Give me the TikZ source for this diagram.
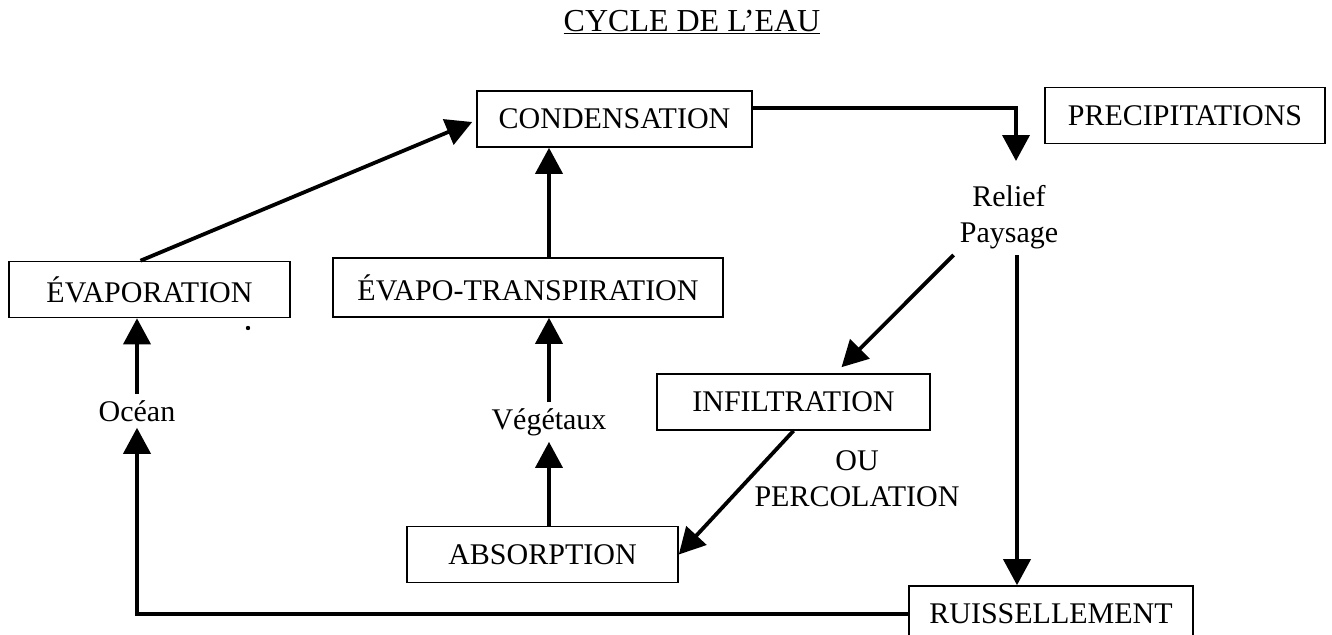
\documentclass[tikz,border=0pt]{standalone}
\usepackage{fontspec}
\setmainfont{Liberation Serif}
\usetikzlibrary{arrows.meta}
\usetikzlibrary{calc}

\tikzset{
  box/.style={draw, line width=1.6pt, minimum height=56pt, inner sep=0pt, font=\fontsize{30}{36}\selectfont},
  txt/.style={align=center, inner sep=6pt, font=\fontsize{30}{36}\selectfont},
  arr/.style={line width=3.8pt, -{Triangle[length=26pt, width=27pt]}},
}

\begin{document}
\begin{tikzpicture}[x=1pt, y=-1pt]
\useasboundingbox (0,0) rectangle (1332,634);

\node (title) at (692,22) [font=\fontsize{32}{38}\selectfont] {\underline{CYCLE DE L’EAU}};

\node (cond) at (614.5,119) [box, minimum width=275pt] {CONDENSATION};
\node (precip) at (1185,115.5) [box, minimum width=280pt] {PRECIPITATIONS};
\node (relief) at (1009,217) [txt] {Relief\\Paysage};
\node (evap) at (149.5,289.5) [box, minimum width=281pt] {ÉVAPORATION};
\node (evapt) at (528,287.5) [box, minimum width=390pt, minimum height=59pt] {ÉVAPO-TRANSPIRATION};
\node (ocean) at (137,411) [txt] {Océan};
\node (veg) at (549,422) [txt] {Végétaux};
\node (infil) at (793.5,402) [box, minimum width=273pt] {INFILTRATION};
\node (ou) at (857,479) [txt] {OU\\PERCOLATION};
\node (absorp) at (542.5,554.5) [box, minimum width=271pt] {ABSORPTION};
\node (ruiss) at (1051,614) [box, minimum width=284pt] {RUISSELLEMENT};

\coordinate (rtop) at ($(relief.north)+(7,-18)$);
\coordinate (rbot) at ($(relief.south)+(8,0)$);

% montee vers la condensation
\draw[arr] ($(evap.north)+(-9,0)$) -- ($(cond.west)+(-4,3)$);
\draw[arr] (evapt.north -| veg) -- (cond.south -| veg);
\draw[arr] (veg.north) -- (evapt.south -| veg);
\draw[arr] (absorp.north -| veg) -- (veg.south);
\draw[arr] (ocean.north) -- (evap.south -| ocean);

% precipitations
\draw[arr] ($(cond.east)+(0,-11)$) -| (rtop);
\draw[arr] (relief.south west) -- ($(infil.north)+(48,-6)$);
\draw[arr] (rbot) -- (ruiss.north -| rbot);
\draw[arr] (infil.south) -- (absorp.east);

% retour a l'ocean
\draw[arr] (ruiss.west) -- (ruiss.west -| ocean) -- (ocean.south);

\fill (248,328) circle (2.2pt);
\end{tikzpicture}
\end{document}
